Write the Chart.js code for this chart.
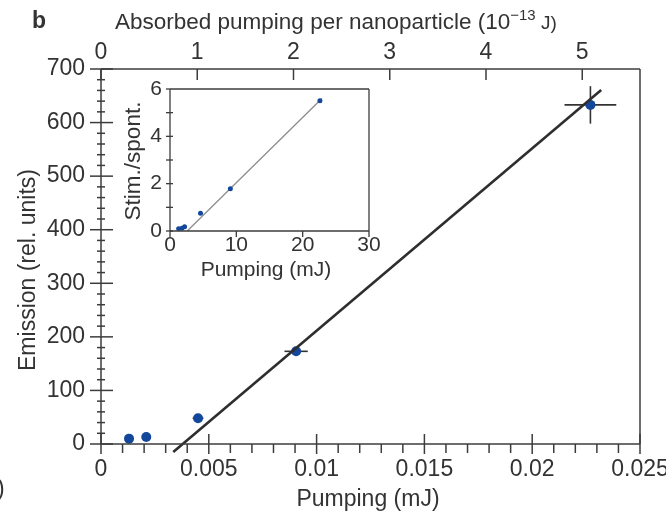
<!DOCTYPE html>
<html>
<head>
<meta charset="utf-8">
<script src="https://cdn.jsdelivr.net/npm/chart.js@4.4.1/dist/chart.umd.min.js"></script>
<style>
  html, body { margin: 0; padding: 0; background: #fff; }
  #wrap { position: relative; width: 666px; height: 513px; }
  #main { position: absolute; left: 0; top: 0; }
  #inset { position: absolute; left: 110px; top: 75px; }
</style>
</head>
<body>
<div id="wrap">
  <canvas id="main" width="666" height="513"></canvas>
  <canvas id="inset" width="280" height="215"></canvas>
</div>
<script>
// main panel: emission vs pumping
const pumpX = [0.0013, 0.0021, 0.0045, 0.00905, 0.0227];
const emission = [10, 13, 48, 173, 633];
const pumpErr = [0, 0, 0.00025, 0.00054, 0.0012];
const emissionErr = [0, 0, 0, 0, 35];
const fitX = [0.00335, 0.0232];
const fitY = [-15, 661];
const topTicks = [0, 1, 2, 3, 4, 5];

// inset: stim./spont. ratio vs pumping
const insetX = [1.3, 1.8, 2.2, 4.6, 9.1, 22.6];
const insetY = [0.1, 0.12, 0.18, 0.75, 1.78, 5.5];
const insetFitX = [2.6, 22.9];
const insetFitY = [0, 5.6];

const FONT = '"Liberation Sans", Arial, Helvetica, sans-serif';
const TXT = '#333';
const AXIS = '#3c3c3c';
const BLUE = '#13479b';

Chart.defaults.font.family = FONT;
Chart.defaults.color = TXT;

function seg(ctx, x1, y1, x2, y2) {
  ctx.beginPath();
  ctx.moveTo(x1, y1);
  ctx.lineTo(x2, y2);
  ctx.stroke();
}

function zeroPad(s) {
  s.paddingLeft = 0; s.paddingRight = 0; s.paddingTop = 0; s.paddingBottom = 0;
}

const mainDeco = {
  id: 'mainDeco',
  beforeDatasetsDraw(chart) {
    const { ctx, scales: { x, y } } = chart;
    ctx.save();
    ctx.strokeStyle = '#333';
    ctx.lineWidth = 1.6;
    pumpX.forEach((v, i) => {
      const px = x.getPixelForValue(v), py = y.getPixelForValue(emission[i]);
      if (pumpErr[i]) seg(ctx, x.getPixelForValue(v - pumpErr[i]), py, x.getPixelForValue(v + pumpErr[i]), py);
      if (emissionErr[i]) seg(ctx, px, y.getPixelForValue(emission[i] - emissionErr[i]), px, y.getPixelForValue(emission[i] + emissionErr[i]));
    });
    ctx.restore();
  },
  afterDraw(chart) {
    const { ctx, chartArea: a, scales: { x, y, x2 } } = chart;
    ctx.save();
    ctx.strokeStyle = AXIS;
    ctx.lineWidth = 1.5;
    // frame
    seg(ctx, a.left, a.top, a.right, a.top);
    seg(ctx, a.left, a.bottom, a.right, a.bottom);
    seg(ctx, a.left, a.top, a.left, a.bottom);
    seg(ctx, a.right, a.top, a.right, a.bottom);
    // y ticks: major every 100, minor every 20
    for (let v = 0; v <= 700; v += 20) {
      const py = y.getPixelForValue(v);
      if (v % 100 === 0) seg(ctx, a.left - 11, py, a.left + 12, py);
      else seg(ctx, a.left - 4, py, a.left + 4, py);
    }
    // bottom ticks: major every 0.005, minor every 0.001
    for (let i = 0; i <= 25; i++) {
      const px = x.getPixelForValue(i / 1000);
      if (i % 5 === 0) seg(ctx, px, a.bottom - 10, px, a.bottom + 10);
      else seg(ctx, px, a.bottom, px, a.bottom + 9);
    }
    // top ticks
    topTicks.forEach(v => {
      const px = x2.getPixelForValue(v);
      seg(ctx, px, a.top, px, a.top + 11);
    });

    // texts
    ctx.fillStyle = TXT;
    ctx.textBaseline = 'alphabetic';
    ctx.textAlign = 'left';
    ctx.font = 'bold 23px ' + FONT;
    ctx.fillText('b', 32, 28);

    ctx.font = '22.5px ' + FONT;
    let tx = 115;
    const t1 = 'Absorbed pumping per nanoparticle (10';
    ctx.fillText(t1, tx, 29);
    tx += ctx.measureText(t1).width;
    ctx.font = '15px ' + FONT;
    ctx.fillText('\u221213', tx, 20);
    tx += ctx.measureText('\u221213').width;
    ctx.font = '19px ' + FONT;
    ctx.fillText(' J)', tx, 29);

    ctx.font = '23px ' + FONT;
    ctx.textAlign = 'center';
    ctx.fillText('Pumping (mJ)', 368, 506);

    ctx.textAlign = 'left';
    ctx.fillText(')', -3, 496);

    ctx.save();
    ctx.translate(35, 270);
    ctx.rotate(-Math.PI / 2);
    ctx.textAlign = 'center';
    ctx.fillText('Emission (rel. units)', 0, 0);
    ctx.restore();

    ctx.restore();
  }
};

new Chart(document.getElementById('main'), {
  type: 'scatter',
  data: {
    datasets: [
      {
        label: 'fit',
        data: fitX.map((v, i) => ({ x: v, y: fitY[i] })),
        showLine: true,
        borderColor: '#2e2e2e',
        borderWidth: 2.6,
        pointRadius: 0,
        clip: false,
        order: 0
      },
      {
        label: 'emission',
        data: pumpX.map((v, i) => ({ x: v, y: emission[i] })),
        backgroundColor: BLUE,
        borderColor: BLUE,
        pointRadius: 5,
        pointBorderWidth: 0,
        order: 1
      }
    ]
  },
  options: {
    responsive: false,
    animation: false,
    devicePixelRatio: 1,
    layout: { padding: { left: 0, right: 26, top: 0, bottom: 0 } },
    plugins: { legend: { display: false }, tooltip: { enabled: false } },
    scales: {
      x: {
        type: 'linear', position: 'bottom', min: 0, max: 0.025,
        grid: { display: false, drawTicks: false },
        border: { display: false },
        ticks: {
          stepSize: 0.005, padding: 12, maxRotation: 0, autoSkip: false,
          font: { size: 23 }, color: TXT,
          callback: v => String(+v.toFixed(3))
        },
        afterFit: s => { s.height = 69; zeroPad(s); }
      },
      x2: {
        type: 'linear', position: 'top', min: 0, max: 5.6,
        grid: { display: false, drawTicks: false },
        border: { display: false },
        ticks: {
          stepSize: 1, padding: 3, maxRotation: 0, autoSkip: false, includeBounds: false,
          font: { size: 23 }, color: TXT,
          callback: v => Math.abs(v - Math.round(v)) < 1e-9 ? Math.round(v) : ''
        },
        afterFit: s => { s.height = 69; zeroPad(s); }
      },
      y: {
        type: 'linear', position: 'left', min: 0, max: 700,
        grid: { display: false, drawTicks: false },
        border: { display: false },
        ticks: { stepSize: 100, padding: 16, font: { size: 23 }, color: TXT },
        afterFit: s => { s.width = 101; zeroPad(s); }
      }
    }
  },
  plugins: [mainDeco]
});

const insetDeco = {
  id: 'insetDeco',
  afterDraw(chart) {
    const { ctx, chartArea: a, scales: { x, y } } = chart;
    ctx.save();
    ctx.strokeStyle = AXIS;
    ctx.lineWidth = 1.3;
    seg(ctx, a.left, a.top, a.right, a.top);
    seg(ctx, a.left, a.bottom, a.right, a.bottom);
    seg(ctx, a.left, a.top, a.left, a.bottom);
    seg(ctx, a.right, a.top, a.right, a.bottom);
    for (let v = 0; v <= 6; v++) {
      const py = y.getPixelForValue(v);
      seg(ctx, a.left - 4, py, a.left + (v === 6 ? 0 : 3), py);
    }
    for (let v = 0; v <= 30; v += 10) {
      const px = x.getPixelForValue(v);
      seg(ctx, px, a.bottom, px, a.bottom + 6);
    }
    ctx.fillStyle = TXT;
    ctx.font = '21px ' + FONT;
    ctx.textAlign = 'center';
    ctx.textBaseline = 'alphabetic';
    ctx.fillText('Pumping (mJ)', 266 - 110, 276 - 75);
    ctx.save();
    ctx.translate(140 - 110, 161 - 75);
    ctx.rotate(-Math.PI / 2);
    ctx.font = '22.5px ' + FONT;
    ctx.fillText('Stim./spont.', 0, 0);
    ctx.restore();
    ctx.restore();
  }
};

new Chart(document.getElementById('inset'), {
  type: 'scatter',
  data: {
    datasets: [
      {
        label: 'fit',
        data: insetFitX.map((v, i) => ({ x: v, y: insetFitY[i] })),
        showLine: true,
        borderColor: '#8c8c8c',
        borderWidth: 1.3,
        pointRadius: 0,
        order: 1
      },
      {
        label: 'ratio',
        data: insetX.map((v, i) => ({ x: v, y: insetY[i] })),
        backgroundColor: BLUE,
        borderColor: BLUE,
        pointRadius: 2.5,
        pointBorderWidth: 0,
        order: 0
      }
    ]
  },
  options: {
    responsive: false,
    animation: false,
    devicePixelRatio: 1,
    layout: { padding: { left: 0, right: 21, top: 14, bottom: 0 } },
    plugins: { legend: { display: false }, tooltip: { enabled: false } },
    scales: {
      x: {
        type: 'linear', min: 0, max: 30,
        grid: { display: false, drawTicks: false },
        border: { display: false },
        ticks: { stepSize: 10, padding: 2, maxRotation: 0, font: { size: 21 }, color: TXT },
        afterFit: s => { s.height = 59; zeroPad(s); }
      },
      y: {
        type: 'linear', min: 0, max: 6,
        grid: { display: false, drawTicks: false },
        border: { display: false },
        ticks: { stepSize: 2, padding: 8, font: { size: 21 }, color: TXT },
        afterFit: s => { s.width = 60; zeroPad(s); }
      }
    }
  },
  plugins: [insetDeco]
});
</script>
</body>
</html>
